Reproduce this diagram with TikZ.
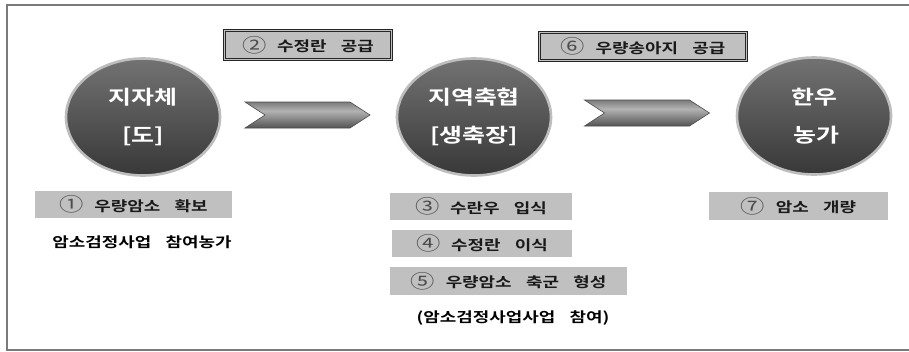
\documentclass[tikz,border=0pt]{standalone}
\usepackage{fontspec}
\setmainfont{Noto Sans CJK KR}[BoldFont={Noto Sans CJK KR Bold}]
\usetikzlibrary{shapes.geometric,shapes.symbols}
\definecolor{boxgray}{HTML}{C0C0C0}
\definecolor{rimgray}{HTML}{BDBDBD}
\definecolor{frame}{HTML}{7A7A7A}
\pgfdeclareverticalshading{chev}{100bp}{%
  color(0bp)=(black!85); color(18bp)=(black!75); color(58bp)=(black!30);
  color(80bp)=(black!58); color(100bp)=(black!82)}
\newcommand\sx[1]{\scalebox{1.28}[1]{#1}}
\newcommand\nm[1]{\raisebox{-0.5pt}{\mdseries\fontsize{19}{16}\selectfont\color{black!70}#1}\hspace{0.6em}}
\newcommand\gp{\hspace{0.8em}}
\begin{document}
\begin{tikzpicture}[x=1pt,y=-1pt,
  disc/.style={ellipse, inner sep=0pt, minimum width=154pt, minimum height=117pt,
    draw=rimgray, line width=2.6pt, top color=black!55, bottom color=black!78,
    text=white, align=center, font=\fontsize{19.5}{38}\selectfont\bfseries},
  graybox/.style={rectangle, inner sep=0pt, fill=boxgray,
    font=\fontsize{14}{16}\selectfont\bfseries, text=black!90},
  dblbox/.style={graybox, draw=black!85, line width=0.9pt, double=boxgray,
    double distance=1.8pt},
  chevron/.style={signal, signal to=east, signal from=west, signal pointer angle=66,
    inner sep=0pt, minimum width=125pt, minimum height=26pt,
    draw=black!70, line width=0.6pt, shading=chev},
  plain/.style={font=\fontsize{14}{16}\selectfont\bfseries, text=black}]
\useasboundingbox (0,0) rectangle (909,351);
\fill[white] (0,0) rectangle (909,351);
% frame
\draw[frame, line width=2pt] (909,5) -- (7,5) -- (7,349.5) -- (909,349.5);

% circles
\node[disc] (c1) at (143,117) {\sx{지자체}\\\sx{[도]}\hspace{10pt}};
\node[disc] (c2) at (474,117) {\sx{지역축협}\\\sx{[생축장]}};
\node[disc] (c3) at (814,116) {\sx{한우}\\\hspace{5pt}\sx{농가}};

% chevrons
\node[chevron] (a1) at (307.5,115) {};
\node[chevron] (a2) at (647,113) {};

% top boxes
\node[dblbox, minimum width=167pt, minimum height=29pt] (b2) at (308,45)
  {\sx{\nm{②}수정란\gp 공급}};
\node[dblbox, minimum width=207pt, minimum height=28pt] (b6) at (643,46.5)
  {\sx{\nm{⑥}우량송아지\gp 공급}};

% gray boxes
\node[graybox, minimum width=197pt, minimum height=27pt] (b1) at (133.5,204.5)
  {\sx{\nm{①}우량암소\gp 확보}};
\node[graybox, minimum width=182pt, minimum height=27pt] (b3) at (481,206.5)
  {\sx{\nm{③}수란우\gp 입식}};
\node[graybox, minimum width=180pt, minimum height=27pt] (b4) at (482,243.5)
  {\sx{\nm{④}수정란\gp 이식}};
\node[graybox, minimum width=237pt, minimum height=28pt] (b5) at (508.5,281)
  {\sx{\nm{⑤}우량암소\gp 축군\gp 형성}};
\node[graybox, minimum width=179pt, minimum height=28pt] (b7) at (798.5,206)
  {\sx{\nm{⑦}암소\gp 개량}};

% plain texts
\node[plain] (t1) at (142,242) {\sx{암소검정사업\gp 참여농가}};
\node[plain] (t2) at (513,318) {\sx{(암소검정사업사업\gp 참여)}};
\end{tikzpicture}
\end{document}
